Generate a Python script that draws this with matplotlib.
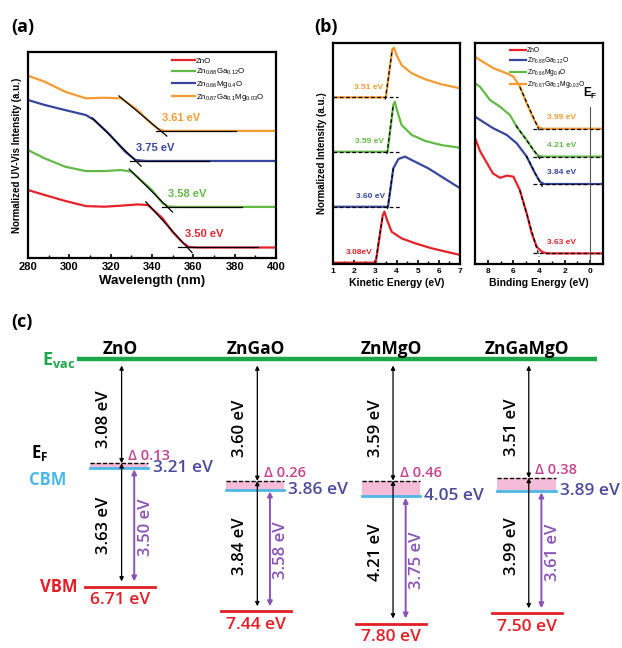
import numpy as np
import matplotlib.pyplot as plt

plt.rcParams['font.family'] = 'Liberation Sans'
plt.rcParams['font.weight'] = 'bold'
plt.rcParams['axes.labelweight'] = 'bold'
plt.rcParams['mathtext.default'] = 'regular'

RED = '#e4232b'
GREEN = '#63b946'
BLUE = '#36479d'
ORANGE = '#f59a31'

# ---------- (a) UV-Vis absorption ----------
wl_zno = [280, 288, 298, 308, 317, 325, 333, 338, 345, 350, 355, 358, 362, 400]
abs_zno = [0.330, 0.306, 0.277, 0.252, 0.249, 0.254, 0.260, 0.257, 0.194, 0.126, 0.073, 0.053, 0.051, 0.051]
wl_znga = [280, 288, 298, 308, 317, 325, 330, 340, 345, 348, 352, 400]
abs_znga = [0.524, 0.484, 0.443, 0.422, 0.422, 0.427, 0.419, 0.330, 0.267, 0.250, 0.248, 0.248]
wl_znmg = [280, 288, 298, 308, 312, 319, 327, 332, 337, 400]
abs_znmg = [0.767, 0.743, 0.718, 0.694, 0.670, 0.605, 0.516, 0.476, 0.471, 0.471]
wl_zngamg = [280, 288, 298, 308, 317, 325, 333, 340, 343, 346, 400]
abs_zngamg = [0.885, 0.856, 0.807, 0.775, 0.778, 0.775, 0.718, 0.650, 0.626, 0.617, 0.617]
edge_win_a = [(338, 355), (330, 345), (312, 332), (325, 343)]
gap_a = [3.50, 3.58, 3.75, 3.61]
names_a = ['ZnO', r'Zn$_{0.88}$Ga$_{0.12}$O', r'Zn$_{0.66}$Mg$_{0.4}$O',
           r'Zn$_{0.87}$Ga$_{0.1}$Mg$_{0.03}$O']

# ---------- (b) UPS: secondary electron cutoff ----------
ke_zno = [1.0, 3.02, 3.35, 3.43, 3.55, 3.77, 4.24, 4.87, 5.66, 7.0]
sec_zno = [0.006, 0.006, 0.220, 0.237, 0.200, 0.146, 0.116, 0.094, 0.071, 0.041]
ke_znga = [1.0, 3.60, 3.85, 4.09, 4.40, 4.87, 5.50, 6.13, 7.0]
sec_znga = [0.259, 0.259, 0.433, 0.475, 0.486, 0.463, 0.433, 0.395, 0.343]
ke_znmg = [1.0, 3.58, 3.85, 3.92, 4.02, 4.24, 4.72, 5.35, 6.13, 7.0]
sec_znmg = [0.508, 0.508, 0.720, 0.734, 0.697, 0.629, 0.584, 0.557, 0.538, 0.526]
ke_zngamg = [1.0, 3.50, 3.80, 3.88, 4.00, 4.24, 4.72, 5.35, 6.13, 7.0]
sec_zngamg = [0.754, 0.754, 0.970, 0.979, 0.946, 0.900, 0.863, 0.836, 0.813, 0.795]
wf_labels = ['3.08eV', '3.60 eV', '3.59 eV', '3.51 eV']

# ---------- (b) UPS: valence band ----------
be_zno = [9.0, 8.6, 8.1, 7.6, 7.05, 6.5, 6.0, 5.5, 4.96, 4.57, 4.18, 3.79, 3.4, -1.0]
vb_zno = [0.570, 0.510, 0.460, 0.410, 0.390, 0.400, 0.395, 0.335, 0.229, 0.139, 0.078, 0.056, 0.048, 0.048]
be_znga = [9.0, 8.61, 7.57, 6.52, 5.74, 4.96, 4.31, 3.92, 3.6, -1.0]
vb_znga = [0.667, 0.652, 0.614, 0.584, 0.546, 0.486, 0.410, 0.372, 0.362, 0.362]
be_znmg = [9.0, 8.61, 7.83, 7.05, 6.27, 5.74, 4.96, 4.44, 4.05, 3.7, -1.0]
vb_znmg = [0.818, 0.802, 0.742, 0.712, 0.674, 0.621, 0.561, 0.516, 0.489, 0.486, 0.486]
be_zngamg = [9.0, 8.61, 7.57, 6.52, 6.0, 5.48, 4.96, 4.44, 4.05, 3.7, -1.0]
vb_zngamg = [0.938, 0.923, 0.886, 0.863, 0.848, 0.802, 0.727, 0.659, 0.619, 0.612, 0.612]
edge_win_vb = [(4.1, 5.5), (3.9, 5.0), (4.4, 5.8), (4.0, 5.5)]
vbm_labels = ['3.63 eV', '3.84 eV', '4.21 eV', '3.99 eV']
names_b = ['ZnO', r'Zn$_{0.88}$Ga$_{0.12}$O', r'Zn$_{0.66}$Mg$_{0.4}$O',
           r'Zn$_{0.87}$Ga$_{0.1}$Mg$_{0.03}$O']

# ---------- (c) band diagram ----------
materials = ['ZnO', 'ZnGaO', 'ZnMgO', 'ZnGaMgO']
fermi = [3.08, 3.60, 3.59, 3.51]
cbm = [3.21, 3.86, 4.05, 3.89]
vbm = [6.71, 7.44, 7.80, 7.50]
fermi_to_vbm = [3.63, 3.84, 4.21, 3.99]
optical_gap = [3.50, 3.58, 3.75, 3.61]

fig = plt.figure(figsize=(6.22, 6.48), dpi=100)


def px_axes(x0, y0, x1, y1):
    return fig.add_axes([x0 / 622, 1 - y1 / 648, (x1 - x0) / 622, (y1 - y0) / 648])


def style(ax, size):
    for s in ax.spines.values():
        s.set_linewidth(1.6)
    ax.tick_params(axis='x', which='major', direction='in', length=3, width=1.2,
                   labelsize=size, pad=3)
    ax.tick_params(axis='x', which='minor', direction='in', length=2, width=1)
    ax.set_yticks([])
    ax.set_ylim(0, 1)


# (a)
ax = px_axes(28, 52, 276, 258)
style(ax, 8)
curves_a = [(wl_zno, abs_zno), (wl_znga, abs_znga), (wl_znmg, abs_znmg), (wl_zngamg, abs_zngamg)]
colors_a = [RED, GREEN, BLUE, ORANGE]
for (x, y), c, name, win, eg in zip(curves_a, colors_a, names_a, edge_win_a, gap_a):
    x = np.array(x)
    y = np.array(y)
    ax.plot(x, y, color=c, lw=1.6, label=name)
    base = y[-1]
    m = (x >= win[0]) & (x <= win[1])
    k, b = np.polyfit(x[m], y[m], 1)
    x_end = (base - 0.025 - b) / k
    ax.plot([win[0] - 1, x_end], [k * (win[0] - 1) + b, base - 0.025], color='k', lw=0.9)
    edge = 1240 / eg
    ax.plot([edge - 1.5, edge + 37], [base, base], color='k', lw=0.9)
    ax.text(edge + 1.5, base + 0.065, f'{eg:.2f} eV', color=c, fontsize=8,
            ha='left', va='center')
ax.set_xlim(280, 400)
ax.set_xticks(range(280, 401, 20))
ax.set_xticks(range(290, 400, 20), minor=True)
ax.set_xlabel('Wavelength (nm)', fontsize=9.5, labelpad=2)
ax.set_ylabel('Normalized UV-Vis Intensity (a.u.)', fontsize=7, labelpad=4)
ax.legend(loc='upper left', bbox_to_anchor=(0.56, 1.0), frameon=False,
          prop={'size': 5.7, 'weight': 'normal'}, handlelength=2.8,
          handletextpad=0.2, labelspacing=0.25, borderaxespad=0.3)

# (b) left: secondary electron cutoff
ax = px_axes(333, 43, 460, 264)
style(ax, 6)
curves_b = [(ke_zno, sec_zno), (ke_znga, sec_znga), (ke_znmg, sec_znmg), (ke_zngamg, sec_zngamg)]
colors_b = [RED, BLUE, GREEN, ORANGE]
for (x, y), c, lab in zip(curves_b, colors_b, wf_labels):
    ax.plot(x, y, color=c, lw=1.6)
    base = y[0]
    onset = x[1]
    ax.plot([1.0, onset + 0.55], [base, base], color='k', lw=0.9, ls=(0, (3, 2)))
    ax.plot([onset - 0.03, x[2]], [base - 0.01, y[2]], color='k', lw=0.9, ls=(0, (3, 2)))
    ax.text(onset - 0.15, base + 0.045, lab, color=c, fontsize=6, ha='right', va='center')
ax.set_xlim(1, 7)
ax.set_xticks(range(1, 8))
ax.set_xticks(np.arange(1.5, 7, 1), minor=True)
ax.set_xlabel('Kinetic Energy (eV)', fontsize=7.5, labelpad=2)
ax.set_ylabel('Normalized Intensity (a.u.)', fontsize=7, labelpad=4)

# (b) right: valence band
ax = px_axes(475, 43, 603, 264)
style(ax, 6)
curves_vb = [(be_zno, vb_zno), (be_znga, vb_znga), (be_znmg, vb_znmg), (be_zngamg, vb_zngamg)]
for (x, y), c, name, win, lab in zip(curves_vb, colors_b, names_b, edge_win_vb, vbm_labels):
    x = np.array(x)
    y = np.array(y)
    ax.plot(x, y, color=c, lw=1.6, label=name)
    base = y[-1]
    m = (x >= win[0]) & (x <= win[1])
    k, b = np.polyfit(x[m], y[m], 1)
    x_end = (base - 0.015 - b) / k
    ax.plot([win[1], x_end], [k * win[1] + b, base - 0.015], color='k', lw=0.9, ls=(0, (3, 2)))
    ax.plot([4.5, -1.0], [base, base], color='k', lw=0.9, ls=(0, (3, 2)))
    ax.text(3.35, base + 0.05, lab, color=c, fontsize=6, ha='left', va='center')
ax.axvline(0, ymax=0.71, color='#555555', lw=0.8)
ax.text(0, 0.77, r'E$_F$', fontsize=8.5, ha='center', va='center')
ax.set_xlim(9, -1)
ax.set_xticks([8, 6, 4, 2, 0])
ax.set_xticks([7, 5, 3, 1], minor=True)
ax.set_xlabel('Binding Energy (eV)', fontsize=7.5, labelpad=2)
ax.legend(loc='upper left', bbox_to_anchor=(0.24, 1.0), frameon=False,
          prop={'size': 4.8, 'weight': 'normal'}, handlelength=2.4,
          handletextpad=0.2, labelspacing=0.2, borderaxespad=0.2)

# panel letters
for x, y, t in [(23, 27, '(a)'), (326, 27, '(b)'), (22, 322, '(c)')]:
    fig.text(x / 622, 1 - y / 648, t, fontsize=13, fontweight='bold',
             family='Open Sans', ha='center', va='center')

# (c) energy band diagram
C_VAC = '#1ea64b'
C_CBM = '#4cb8e6'
C_VBM = '#e31e26'
C_PUR = '#8a53b6'
C_VAL = '#4c4c9c'
C_DEL = '#c4418f'
F = 'Open Sans'

ax = fig.add_axes([0, 0, 1, 348 / 648])
ax.axis('off')
ax.set_xlim(-0.884, 3.699)
ax.set_ylim(8.52, -1.729)
ax.plot([-0.317, 3.515], [0, 0], color=C_VAC, lw=3.2, solid_capstyle='butt')
ax.text(-0.33, 0.05, r'E$_{\mathregular{vac}}$', color=C_VAC, fontsize=13,
        family=F, fontweight='bold', ha='right', va='center')
ax.text(-0.59, fermi[0] - 0.3, r'E$_{\mathregular{F}}$', color='k', fontsize=12,
        family=F, fontweight='bold', ha='center', va='center')
ax.text(-0.53, cbm[0] + 0.35, 'CBM', color=C_CBM, fontsize=12,
        family=F, fontweight='bold', ha='center', va='center')
ax.text(-0.31, vbm[0], 'VBM', color=C_VBM, fontsize=12,
        family=F, fontweight='bold', ha='right', va='center')

arrow_k = dict(arrowstyle='<|-|>', color='k', lw=0.9, mutation_scale=6, shrinkA=0, shrinkB=0)
arrow_p = dict(arrowstyle='<|-|>', color=C_PUR, lw=1.4, mutation_scale=7, shrinkA=0, shrinkB=0)
for i, name in enumerate(materials):
    ax.text(i, -0.3, name, fontsize=12.5, family=F, fontweight='bold', ha='center', va='center')
    ax.fill_between([i - 0.22, i + 0.21], fermi[i], cbm[i], color='#f5bcd9', lw=0)
    ax.plot([i - 0.258, i + 0.258], [vbm[i], vbm[i]], color=C_VBM, lw=2)
    ax.plot([i - 0.22, i + 0.21], [cbm[i], cbm[i]], color=C_CBM, lw=2)
    ax.plot([i - 0.22, i + 0.21], [fermi[i], fermi[i]], color='k', lw=1, ls=(0, (3, 1.5)))
    xa = i + 0.012
    ax.annotate('', xy=(xa, 0.2), xytext=(xa, fermi[i]), arrowprops=arrow_k)
    ax.annotate('', xy=(xa, fermi[i]), xytext=(xa, vbm[i] - 0.15), arrowprops=arrow_k)
    xp = i + 0.105
    ax.annotate('', xy=(xp, cbm[i] + 0.05), xytext=(xp, vbm[i] - 0.15), arrowprops=arrow_p)
    ax.text(i - 0.115, fermi[i] / 2 + 0.25, f'{fermi[i]:.2f} eV', rotation=90,
            fontsize=12, family=F, fontweight='semibold', ha='center', va='center')
    ax.text(i - 0.115, fermi[i] + fermi_to_vbm[i] / 2, f'{fermi_to_vbm[i]:.2f} eV',
            rotation=90, fontsize=12, family=F, fontweight='semibold',
            ha='center', va='center')
    ax.text(i + 0.19, cbm[i] + optical_gap[i] / 2, f'{optical_gap[i]:.2f} eV',
            rotation=90, color=C_PUR, fontsize=12, family=F, fontweight='semibold',
            ha='center', va='center')
    ax.text(i + 0.06, fermi[i] - 0.22, f'\u0394 {cbm[i] - fermi[i]:.2f}', color=C_DEL,
            fontsize=10.5, family=F, fontweight='semibold', ha='left', va='center')
    ax.text(i + 0.24, cbm[i], f'{cbm[i]:.2f} eV', color=C_VAL, fontsize=12.5,
            family=F, fontweight='semibold', ha='left', va='center')
    ax.text(i, vbm[i] + 0.4, f'{vbm[i]:.2f} eV', color=C_VBM, fontsize=12.5,
            family=F, fontweight='semibold', ha='center', va='center')

fig.savefig('out.png', dpi=100)
